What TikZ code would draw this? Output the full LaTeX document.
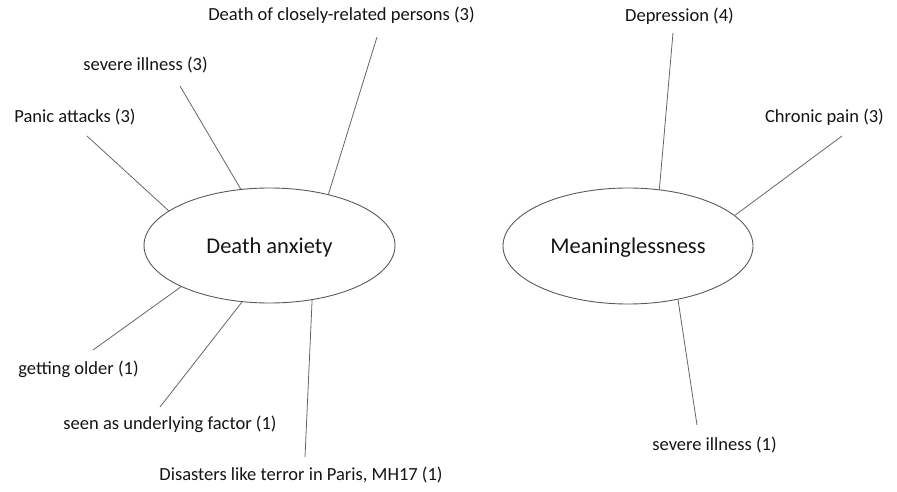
\documentclass[tikz,border=0pt]{standalone}
\usepackage{fontspec}
\setmainfont{Carlito}
\usetikzlibrary{shapes.geometric}
\begin{document}
\begin{tikzpicture}[x=1pt,y=-1pt,
  lbl/.style={anchor=base,inner sep=0pt,text=black!92,font=\fontsize{18.5}{20}\selectfont},
  hub/.style={ellipse,draw=black!65,line width=0.9pt,inner sep=0pt,text depth=0pt,text=black!92,font=\fontsize{22.5}{24}\selectfont},
  link/.style={draw=black!60,line width=0.8pt}]
\useasboundingbox (0,0) rectangle (897,492);
% hubs
\node[hub,minimum width=251pt,minimum height=115pt] (DA) at (269.5,245.5) {Death anxiety};
\node[hub,minimum width=250pt,minimum height=116pt] (ML) at (628,246) {Meaninglessness};
% labels
\node[lbl] (panic) at (75,123) {Panic attacks (3)};
\node[lbl] (sev3) at (145.5,71) {severe illness (3)};
\node[lbl] (death) at (341.5,21) {Death of closely-related persons (3)};
\node[lbl] (older) at (78.5,374) {getting older (1)};
\node[lbl] (under) at (170,429) {seen as underlying factor (1)};
\node[lbl] (disas) at (301,480) {Disasters like terror in Paris, MH17 (1)};
\node[lbl] (depr) at (679.5,22) {Depression (4)};
\node[lbl] (chron) at (824.5,123) {Chronic pain (3)};
\node[lbl] (sev1) at (714.5,450) {severe illness (1)};
% free ends of connectors
\coordinate (p1) at (87,136);
\coordinate (s1) at (180,86);
\coordinate (d1) at (377,37);
\coordinate (g1) at (93,350);
\coordinate (u1) at (160,407);
\coordinate (t1) at (305,457);
\coordinate (m1) at (673,33);
\coordinate (c1) at (842,136);
\coordinate (i1) at (697,425);
% connectors
\draw[link] (p1) -- (DA.161.4);
\draw[link] (s1) -- (DA.117.2);
\draw[link] (d1) -- (DA.41);
\draw[link] (g1) -- (DA.205.9);
\draw[link] (u1) -- (DA.244.4);
\draw[link] (t1) -- (DA.308.5);
\draw[link] (m1) -- (ML.61.1);
\draw[link] (c1) -- (ML.16.4);
\draw[link] (i1) -- (ML.313.2);
\end{tikzpicture}
\end{document}
